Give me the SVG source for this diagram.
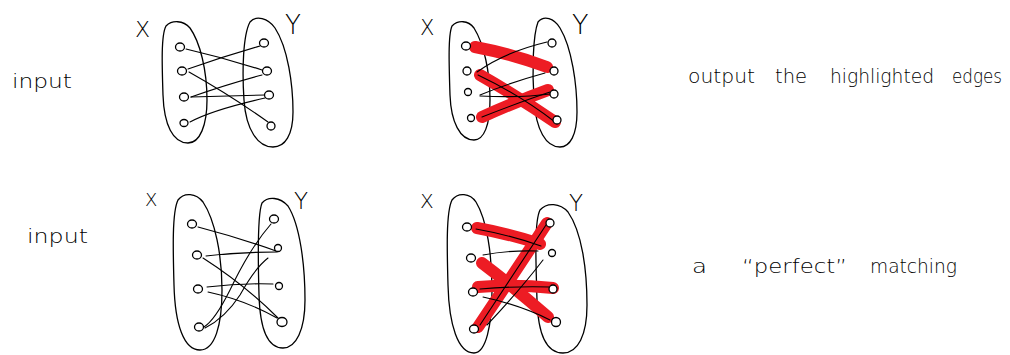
<svg xmlns="http://www.w3.org/2000/svg" width="1010" height="355" viewBox="0 0 1010 355">
<style>
.set{fill:none;stroke:#000;stroke-width:1.3;stroke-linecap:round;stroke-linejoin:round}
.v{fill:#fff;stroke:#000;stroke-width:1.3}
.e{fill:none;stroke:#000;stroke-width:1.1;stroke-linecap:round}
.m{fill:none;stroke:#ed1c24;stroke-width:12;stroke-linecap:round}
.lbl{font-family:"DejaVu Sans","Liberation Sans",sans-serif;font-weight:200;fill:#000}
.t{font-family:"DejaVu Sans","Liberation Sans",sans-serif;font-weight:200;font-size:20px;fill:#000}
</style>
<rect width="1010" height="355" fill="#fff"/>

<!-- text labels -->
<g id="label-input-1"><text class="t" x="12" y="88" font-size="22" textLength="60" lengthAdjust="spacingAndGlyphs">input</text></g>
<g id="label-input-2"><text class="t" x="27" y="243" font-size="22" textLength="61" lengthAdjust="spacingAndGlyphs">input</text></g>
<g id="label-output">
<text class="t" x="688" y="83" textLength="67" lengthAdjust="spacingAndGlyphs">output</text>
<text class="t" x="775" y="83" textLength="32" lengthAdjust="spacingAndGlyphs">the</text>
<text class="t" x="830" y="83" textLength="104" lengthAdjust="spacingAndGlyphs">highlighted</text>
<text class="t" x="952" y="83" font-size="18" textLength="50" lengthAdjust="spacingAndGlyphs">edges</text>
</g>
<g id="label-perfect">
<text class="t" x="692" y="273" textLength="15" lengthAdjust="spacingAndGlyphs">a</text>
<text class="t" x="742" y="273" textLength="105" lengthAdjust="spacingAndGlyphs">“perfect”</text>
<text class="t" x="870" y="273" textLength="87" lengthAdjust="spacingAndGlyphs">matching</text>
</g>

<!-- Panel 1 -->
<g id="p1">
<g id="p1-X"><text class="lbl" x="135" y="37" font-size="22">X</text></g>
<g id="p1-Y"><text class="lbl" x="285" y="34" font-size="26">Y</text></g>
<g id="p1-setX"><path class="set" d="M166,26 C172,20 183,20 190,28 C200,42 207,70 207,100 C207,125 200,143 188,143 C173,143 164,125 163,95 C162,65 161,35 166,26 Z"/></g>
<g id="p1-setY"><path class="set" d="M250,22 C256,15 268,18 275,28 C288,48 293,85 293,112 C293,135 285,147 273,147 C258,147 246,130 244,100 C242,70 243,35 250,22 Z"/></g>
<g id="p1-connectors">
<path class="e" d="M186,49 Q225,58 262,70"/>
<path class="e" d="M188,69 Q225,56 260,46"/>
<path class="e" d="M189,72 Q230,95 268,122"/>
<path class="e" d="M191,97 Q228,84 262,75"/>
<path class="e" d="M191,97 Q230,96 265,95"/>
<path class="e" d="M190,122 Q212,110 265,98"/>
</g>
<g id="p1-x1"><ellipse class="v" cx="180" cy="47" rx="4.5" ry="4"/></g>
<g id="p1-x2"><ellipse class="v" cx="182" cy="71" rx="4.5" ry="4"/></g>
<g id="p1-x3"><ellipse class="v" cx="184" cy="97" rx="4.5" ry="4"/></g>
<g id="p1-x4"><ellipse class="v" cx="184" cy="123" rx="4" ry="3.5"/></g>
<g id="p1-y1"><ellipse class="v" cx="264" cy="43" rx="4.5" ry="4"/></g>
<g id="p1-y2"><ellipse class="v" cx="267" cy="71" rx="4.5" ry="4"/></g>
<g id="p1-y3"><ellipse class="v" cx="269" cy="95" rx="4.5" ry="4"/></g>
<g id="p1-y4"><ellipse class="v" cx="271" cy="126" rx="4" ry="4"/></g>
</g>

<!-- Panel 2 -->
<g id="p2">
<g id="p2-X"><text class="lbl" x="420" y="35" font-size="21">X</text></g>
<g id="p2-Y"><text class="lbl" x="572" y="34" font-size="27">Y</text></g>
<g id="p2-setX"><path class="set" d="M452,26 C458,20 468,20 474,28 C484,44 490,72 490,100 C490,125 484,140 474,140 C460,140 451,122 450,95 C449,65 448,35 452,26 Z"/></g>
<g id="p2-setY"><path class="set" d="M538,22 C544,15 554,18 560,28 C572,48 577,85 577,112 C577,135 570,147 560,147 C546,147 536,130 534,100 C532,70 533,35 538,22 Z"/></g>
<g id="p2-connectors">
<path class="m" d="M475,47 Q512,54 547,67"/>
<path class="m" d="M480,75 Q520,98 555,122"/>
<path class="m" d="M482,117 Q515,102 548,90"/>
<path class="e" d="M477,72 Q505,52 547,42"/>
<path class="e" d="M480,95 Q512,82 545,73"/>
<path class="e" d="M480,96 Q520,98 550,94"/>
<path class="e" d="M478,75 Q520,95 555,122"/>
<path class="e" d="M482,117 Q520,102 550,92"/>
</g>
<g id="p2-x1"><ellipse class="v" cx="466" cy="46" rx="4.5" ry="4"/></g>
<g id="p2-x2"><ellipse class="v" cx="467" cy="71" rx="4" ry="4"/></g>
<g id="p2-x3"><ellipse class="v" cx="468" cy="92" rx="3.5" ry="3.5"/></g>
<g id="p2-x4"><ellipse class="v" cx="471" cy="118" rx="3.5" ry="3.5"/></g>
<g id="p2-y1"><ellipse class="v" cx="552" cy="43" rx="4" ry="4"/></g>
<g id="p2-y2"><ellipse class="v" cx="554" cy="71" rx="4" ry="4"/></g>
<g id="p2-y3"><ellipse class="v" cx="554" cy="94" rx="4" ry="4"/></g>
<g id="p2-y4"><ellipse class="v" cx="557" cy="120" rx="4" ry="4"/></g>
</g>

<!-- Panel 3 -->
<g id="p3">
<g id="p3-X"><text class="lbl" x="145" y="206" font-size="18">X</text></g>
<g id="p3-Y"><text class="lbl" x="294" y="209" font-size="23">Y</text></g>
<g id="p3-setX"><path class="set" d="M178,200 C184,192 196,193 203,202 C215,220 222,255 222,290 C222,325 215,350 200,350 C184,350 175,325 174,285 C173,250 172,212 178,200 Z"/></g>
<g id="p3-setY"><path class="set" d="M262,203 C268,196 280,197 288,206 C300,225 305,265 305,300 C305,330 296,348 283,348 C268,348 260,330 259,295 C258,260 257,215 262,203 Z"/></g>
<g id="p3-connectors">
<path class="e" d="M198,227 Q240,238 276,251"/>
<path class="e" d="M206,256 Q240,252 277,252"/>
<path class="e" d="M203,258 Q245,285 278,318"/>
<path class="e" d="M207,287 Q240,283 273,284"/>
<path class="e" d="M208,292 Q245,300 277,318"/>
<path class="e" d="M204,327 Q215,320 230,290 Q250,248 271,224"/>
<path class="e" d="M205,328 Q225,318 240,295 Q255,268 268,258"/>
</g>
<g id="p3-x1"><ellipse class="v" cx="192" cy="224" rx="4.5" ry="4"/></g>
<g id="p3-x2"><ellipse class="v" cx="197" cy="255" rx="4.5" ry="4"/></g>
<g id="p3-x3"><ellipse class="v" cx="198" cy="289" rx="4.5" ry="4"/></g>
<g id="p3-x4"><ellipse class="v" cx="199" cy="327" rx="4.5" ry="4"/></g>
<g id="p3-y1"><ellipse class="v" cx="274" cy="219" rx="4.5" ry="4"/></g>
<g id="p3-y2"><ellipse class="v" cx="278" cy="248" rx="3.5" ry="3.5"/></g>
<g id="p3-y3"><ellipse class="v" cx="279" cy="286" rx="3.5" ry="3.5"/></g>
<g id="p3-y4"><ellipse class="v" cx="282" cy="322" rx="5" ry="4.5"/></g>
</g>

<!-- Panel 4 -->
<g id="p4">
<g id="p4-X"><text class="lbl" x="420" y="208" font-size="20">X</text></g>
<g id="p4-Y"><text class="lbl" x="569" y="211" font-size="23">Y</text></g>
<g id="p4-setX"><path class="set" d="M452,200 C458,192 470,193 476,202 C487,220 492,255 492,290 C492,325 486,353 474,353 C458,353 449,325 448,285 C447,250 446,212 452,200 Z"/></g>
<g id="p4-setY"><path class="set" d="M540,210 C547,202 560,203 568,212 C582,232 587,270 587,305 C587,335 578,353 563,353 C547,353 538,335 537,300 C536,265 534,222 540,210 Z"/></g>
<g id="p4-connectors">
<path class="m" d="M477,228 Q510,234 540,244"/>
<path class="m" d="M478,327 Q515,272 547,223"/>
<path class="m" d="M478,287 Q515,284 553,288"/>
<path class="m" d="M482,263 Q515,288 548,317"/>
<path class="e" d="M476,229 Q510,235 541,246"/>
<path class="e" d="M483,255 Q510,250 538,251"/>
<path class="e" d="M480,289 Q515,286 550,287"/>
<path class="e" d="M480,325 Q515,272 546,225"/>
<path class="e" d="M487,325 Q520,290 543,260"/>
<path class="e" d="M483,297 Q520,305 550,320"/>
</g>
<g id="p4-x1"><ellipse class="v" cx="467" cy="227" rx="4.5" ry="4"/></g>
<g id="p4-x2"><ellipse class="v" cx="471" cy="258" rx="4.5" ry="4"/></g>
<g id="p4-x3"><ellipse class="v" cx="473" cy="292" rx="4.5" ry="4"/></g>
<g id="p4-x4"><ellipse class="v" cx="474" cy="329" rx="4.5" ry="4"/></g>
<g id="p4-y1"><ellipse class="v" cx="550" cy="223" rx="4" ry="4"/></g>
<g id="p4-y2"><ellipse class="v" cx="552" cy="253" rx="3.5" ry="3.5"/></g>
<g id="p4-y3"><ellipse class="v" cx="553" cy="289" rx="4" ry="4"/></g>
<g id="p4-y4"><ellipse class="v" cx="556" cy="322" rx="4.5" ry="4.5"/></g>
</g>
</svg>
